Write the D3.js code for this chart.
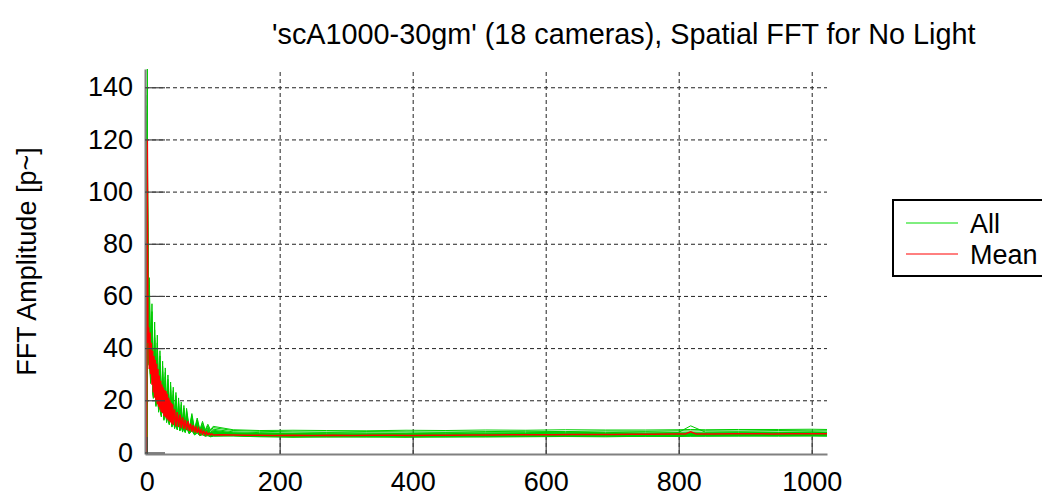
<!DOCTYPE html>
<html><head><meta charset="utf-8">
<script src="https://cdn.jsdelivr.net/npm/d3@7"></script>
<style>body{margin:0;background:#fff;overflow:hidden} text{font-family:"Liberation Sans",Arial,sans-serif;}</style>
</head><body><svg id="c" width="1042" height="498"></svg>
<script>
const titleText = "'scA1000-30gm' (18 cameras), Spatial FFT for No Light";
const yLabel = "FFT Amplitude [p~]";
const xTicks = [0, 200, 400, 600, 800, 1000];
const yTicks = [0, 20, 40, 60, 80, 100, 120, 140];
const legendLabels = ["All", "Mean"];

const camX = [0,1,2,4,6,8,10,12,14,16,18,20,22,24,26,28,30,32,34,36,38,40,42,44,46,48,50,52,54,56,58,60,
  64,68,72,76,80,84,88,92,96,100,130,170,220,270,330,390,450,510,570,630,690,750,800,818,840,890,950,1000,1023];
const cam01 = [0,96, 33.4,37,26.4,32,20.7,28,17.6,25,15.4,22,13.6,19.5,12.3,18,11.4,16.5,10.6,15,9.7,14,9.1,12.8,8.6,11.6,8.2,10.7,7.8,10,7.6,9.4, 7.1,8.3,6.7,7.4,6.4,6.8,6.2,6.4,6.0,6.2, 6.3,6.0,5.8,6.0,5.9,5.8,6.0,5.9,6.0,6.1,6.0,6.2,6.1,6.2,6.2,6.3,6.2,6.3,6.2];
const cam02 = [0,100, 34.2,40,27,34,21.2,30,18,26,15.8,23,14,21,12.6,19,11.7,17.6,10.8,16,9.9,14.8,9.3,13.6,8.8,12.4,8.4,11.4,8,10.6,7.7,10, 7.3,8.8,6.8,7.8,6.6,7,6.3,6.6,6.1,6.4, 6.5,6.2,6.0,5.9,6.1,6.0,5.9,6.1,6.2,6.1,6.3,6.2,6.4,6.3,6.4,6.3,6.5,6.4,6.4];
const cam03 = [0,104, 35,43,27.6,36,21.6,31,18.4,28,16.1,25,14.3,22,12.9,20,12,18.7,11,17,10.1,15.7,9.5,14.5,9,13.2,8.6,12.2,8.2,11.3,7.9,10.6, 7.5,9.4,7,8.3,6.7,7.5,6.4,6.8,6.3,6.6, 6.4,6.1,6.2,6.1,6.0,6.2,6.1,6.3,6.2,6.4,6.3,6.3,6.4,6.5,6.4,6.5,6.5,6.6,6.5];
const cam04 = [0,108, 35.3,44,27.9,37,21.9,33,18.6,29,16.3,25.5,14.4,23,13,21,12.1,19.4,11.2,17.6,10.2,16.3,9.6,15,9.1,13.6,8.6,12.6,8.3,11.7,8,11, 7.5,9.7,7.1,8.6,6.8,7.7,6.5,7,6.4,6.7, 6.6,6.3,6.1,6.3,6.2,6.1,6.3,6.2,6.3,6.4,6.3,6.5,6.4,6.5,6.5,6.6,6.5,6.6,6.5];
const cam05 = [0,110, 35.7,45,28.2,38,22.1,33,18.8,30,16.5,26,14.6,23,13.2,22,12.2,20,11.3,18,10.3,16.7,9.7,15.3,9.2,14,8.7,12.9,8.4,12,8.1,11.3, 7.6,9.9,7.1,8.8,6.9,7.9,6.6,7.2,6.5,6.8, 6.8,6.5,6.3,6.2,6.4,6.3,6.2,6.4,6.5,6.4,6.6,6.5,6.7,6.6,6.7,6.6,6.8,6.7,6.7];
const cam06 = [0,112, 36.1,47,28.5,39,22.3,34,19,31,16.6,27,14.7,24,13.3,22,12.4,20.5,11.4,18.6,10.5,17.2,9.8,15.8,9.3,14.4,8.8,13.3,8.5,12.4,8.2,11.6, 7.7,10.2,7.2,9.1,6.9,8.2,6.7,7.4,6.5,6.9, 6.6,6.3,6.4,6.3,6.2,6.4,6.3,6.5,6.4,6.6,6.5,6.5,6.6,6.7,6.6,6.7,6.7,6.8,6.7];
const cam07 = [0,114, 36.5,48,28.8,40,22.6,35,19.2,31,16.8,28,14.9,25,13.4,23,12.5,21,11.5,19,10.6,17.6,9.9,16.2,9.4,14.7,8.9,13.6,8.5,12.6,8.3,11.9, 7.8,10.5,7.3,9.3,7,8.4,6.7,7.6,6.6,7, 6.8,6.5,6.3,6.5,6.4,6.3,6.5,6.4,6.5,6.6,6.5,6.7,6.6,6.7,6.7,6.8,6.7,6.8,6.7];
const cam08 = [0,116, 36.9,49,29.1,41,22.8,36,19.4,32,17,28,15,25,13.6,23,12.6,21,11.6,19.4,10.7,17.9,10,16.5,9.5,15,9,13.9,8.6,12.9,8.3,12.1, 7.9,10.7,7.4,9.5,7.1,8.5,6.8,7.8,6.7,7.2, 7.0,6.7,6.5,6.4,6.6,6.5,6.4,6.6,6.7,6.6,6.8,6.7,6.9,6.8,6.9,6.8,7.0,6.9,6.9];
const cam09 = [0,118, 37.2,50,29.4,42,23,37,19.6,33,17.2,29,15.2,26,13.7,24,12.7,22,11.8,20,10.8,18.5,10.1,17,9.6,15.5,9.1,14.3,8.7,13.3,8.4,12.5, 7.9,11,7.4,9.8,7.2,8.8,6.9,8,6.8,7.4, 6.8,6.5,6.6,6.5,6.4,6.6,6.5,6.7,6.6,6.8,6.7,6.7,6.8,6.9,6.8,6.9,6.9,7.0,6.9];
const cam10 = [0,120, 38,51,30,43,23.5,36,20,34,17.5,30,15.5,27,14,23,13,23,12,21,11,18,10.3,17.5,9.8,16,9.3,14,8.9,13.6,8.6,12.8, 8.1,11.3,7.6,10,7.3,8.9,7,8.2,6.9,7.5, 7.0,6.7,6.5,6.7,6.6,6.5,6.7,6.6,6.7,6.8,6.7,6.9,6.8,6.9,6.9,7.0,6.9,7.0,6.9];
const cam11 = [0,122, 38.5,52,29.6,43,23.8,38,19.8,34,17.7,30,15.3,27,14.2,25,12.9,22.7,12.1,20.6,11.1,19,10.4,17.5,9.7,16,9.4,14.7,8.8,13.7,8.7,12.9, 8.2,11.3,7.7,10.1,7.4,9.1,7.1,8.2,7,7.6, 7.2,6.9,6.7,6.6,6.8,6.7,6.6,6.8,6.9,6.8,7.0,6.9,7.1,7.0,7.1,7.0,7.2,7.1,7.1];
const cam12 = [0,124, 38.8,53,30.6,44,24,39,20.4,35,17.9,30.5,15.8,27,14.3,25,13.3,23,12.2,21,11.2,19.4,10.5,17.9,10,16.3,9.5,15,9.1,14,8.8,13.1, 8.3,11.6,7.8,10.3,7.4,9.2,7.1,8.4,7,7.8, 7.1,6.8,6.9,6.8,6.7,6.9,6.8,7.0,6.9,7.1,7.0,7.0,7.1,7.2,7.1,7.2,7.2,7.3,7.2];
const cam13 = [0,127, 39.1,54,30.9,45,24.2,40,20.6,36,18,31,16,28,14.4,26,13.4,23.8,12.4,21.6,11.3,20,10.6,18.4,10.1,16.7,9.6,15.4,9.2,14.4,8.9,13.5, 8.3,11.9,7.8,10.6,7.5,9.5,7.2,8.6,7.1,8, 7.3,7.0,6.8,7.0,6.9,6.8,7.0,6.9,7.0,7.1,7.0,7.2,7.1,7.2,7.2,7.3,7.2,7.3,7.2];
const cam14 = [0,130, 39.9,55,31.5,46,24.7,41,21,36,18.4,32,16.3,28.6,14.7,26.4,13.7,24.2,12.6,22,11.6,20.4,10.8,18.7,10.3,17.1,9.8,15.7,9.3,14.6,9,13.8, 8.5,12.1,8,10.8,7.7,9.7,7.4,8.8,7.3,8.1, 7.5,7.2,7.0,6.9,7.1,7.0,6.9,7.1,7.2,7.1,7.3,7.2,7.4,7.3,7.4,7.3,7.5,7.4,7.4];
const cam15 = [0,133, 40.3,58,31.8,48,24.9,43,21.2,38,18.6,33,16.4,30,14.8,27.6,13.8,25.3,12.7,23,11.7,21.3,10.9,19.6,10.4,17.8,9.9,16.4,9.4,15.3,9.1,14.4, 8.6,12.7,8.1,11.3,7.7,10.1,7.5,9.2,7.4,8.5, 7.5,7.2,7.3,7.2,7.1,7.3,7.2,7.4,7.3,7.5,7.4,7.4,7.5,7.6,7.5,7.6,7.6,7.7,7.6];
const cam16 = [0,137, 41,60,32.4,50,25.4,44,21.6,40,18.9,35,16.7,31,15.1,29,14,26.4,13,24,11.9,22.2,11.1,20.4,10.6,18.6,10,17.2,9.6,16,9.3,15, 8.7,13.2,8.2,11.8,7.9,10.6,7.6,9.6,7.6,8.9, 7.9,7.6,7.4,7.6,7.5,7.4,7.6,7.5,7.6,7.7,7.6,7.8,7.7,10.2,7.8,7.9,7.8,7.9,7.8];
const cam17 = [0,140, 41.8,64,33,54,25.9,47,22,42,19.3,37,17.1,33,15.4,30.7,14.3,28,13.2,25.6,12.1,23.7,11.3,21.8,10.8,19.8,10.2,18.3,9.8,17,9.5,16, 8.9,14.1,8.5,12.5,8.3,11.3,8.2,10.2,8.2,9.5, 8.4,8.1,7.9,7.8,8.0,7.9,7.8,8.0,8.1,8.0,8.2,8.1,8.3,8.2,8.3,8.2,8.4,8.3,8.3];
const cam18 = [0,147, 42.9,67,33.9,57,26.6,50,22.6,45,19.8,39,17.5,35,15.8,32.4,14.7,29.7,13.6,27,12.4,25,11.6,23,11.1,20.9,10.5,19.3,10.1,18,9.7,16.9, 9.2,14.9,8.9,13.2,8.7,11.9,8.6,10.8,8.6,10, 8.7,8.4,8.5,8.4,8.3,8.5,8.4,8.6,8.5,8.7,8.6,8.6,8.7,8.8,8.7,8.8,8.8,8.9,8.8];

const meanX = [0,1,2,3,4,5,6,7,8,9,10,11,12,13,14,15,16,17,18,19,20,21,22,23,24,25,26,27,28,29,30,31,32,33,34,35,36,37,38,39,40,
  42,44,46,48,50,52,54,56,58,60,62,64,66,68,70,72,74,76,78,80,82,84,86,88,90,92,94,96,98,100,
  110,130,150,170,190,220,250,280,310,340,370,400,430,460,490,520,550,580,610,640,670,700,730,760,790,810,818,826,850,880,910,940,970,1000,1023];
const meanY = [0,120,42,48,32,46,30,42,26,39,23,37,21,35.5,20,34,18.5,32,17.5,29.5,16.5,27.5,15.5,26,15,25,14,24,13.5,23.5,13,22.5,12.5,21,12,20,11.5,19,11,18.5,10.5,
  16.5,10,15.5,9.8,14.5,9.4,13.5,9,12.5,8.6,12,8.3,11,8,10.5,7.7,10,7.5,9.2,7.3,8.6,7.1,8.2,6.9,7.8,6.8,7.4,6.7,7.1,6.7,
  6.8,6.7,6.6,6.6,6.5,6.6,6.5,6.6,6.5,6.6,6.6,6.5,6.6,6.6,6.7,6.7,6.8,6.8,6.8,6.9,6.9,6.9,7.0,7.0,7.1,7.1,7.9,7.1,7.1,7.2,7.2,7.1,7.2,7.2,7.2];

const cameras = [cam01,cam02,cam03,cam04,cam05,cam06,cam07,cam08,cam09,cam10,cam11,cam12,cam13,cam14,cam15,cam16,cam17,cam18];

const svg = d3.select("#c");
const L = 145, R = 827, T = 69, B = 454;
const x = d3.scaleLinear().domain([-2.5, 1023]).range([L, R]);
const y = d3.scaleLinear().domain([-0.6, 147]).range([B, T]);
const FS = 27;
const FONT = '"Liberation Sans",Arial,sans-serif';

// grid
const gx = svg.append("g").attr("transform", `translate(0,${B})`)
  .call(d3.axisBottom(x).tickValues(xTicks.filter(d => d > 0)).tickSize(-(B - T)).tickSizeOuter(0).tickFormat(""));
gx.select(".domain").remove();
gx.selectAll("line").attr("stroke", "#222").attr("stroke-dasharray", "4,3");
const gy = svg.append("g").attr("transform", `translate(${L},0)`)
  .call(d3.axisLeft(y).tickValues(yTicks.filter(d => d > 0)).tickSize(-(R - L)).tickSizeOuter(0).tickFormat(""));
gy.select(".domain").remove();
gy.selectAll("line").attr("stroke", "#222").attr("stroke-dasharray", "4,3");

// clip
svg.append("clipPath").attr("id", "clip").append("rect").attr("x", L).attr("y", T - 2).attr("width", R - L).attr("height", B - T + 2);
const plot = svg.append("g").attr("clip-path", "url(#clip)");

const line = d3.line().x(d => x(d[0])).y(d => y(d[1]));
plot.selectAll("path.cam").data(cameras).join("path").attr("class", "cam")
  .attr("d", c => line(c.map((v, i) => [camX[i], v])))
  .attr("fill", "none").attr("stroke", "#00cc00").attr("stroke-width", 1);
plot.append("path").attr("d", line(meanY.map((v, i) => [meanX[i], v])))
  .attr("fill", "none").attr("stroke", "#ff0000").attr("stroke-width", 1.5);

// axes
const ax = svg.append("g").attr("transform", `translate(0,${B})`)
  .call(d3.axisBottom(x).tickValues(xTicks).tickFormat(d3.format("d")).tickSize(-17).tickSizeOuter(0).tickPadding(18));
ax.select(".domain").attr("stroke", "#808080").attr("stroke-width", 2);
ax.selectAll(".tick line").attr("stroke", "#444").attr("stroke-width", 1.2);
ax.selectAll("text").attr("font-size", FS).attr("fill", "#000").attr("font-family", FONT);

const ay = svg.append("g").attr("transform", `translate(${L},0)`)
  .call(d3.axisLeft(y).tickValues(yTicks).tickFormat(d3.format("d")).tickSize(-20).tickSizeOuter(0).tickPadding(12));
ay.select(".domain").attr("stroke", "#808080").attr("stroke-width", 2);
ay.selectAll(".tick line").attr("stroke", "#444").attr("stroke-width", 1.2);
ay.selectAll("text").attr("font-size", FS).attr("fill", "#000").attr("font-family", FONT);

// title & label
svg.append("text").attr("x", 272).attr("y", 44).attr("font-size", 28.8).text(titleText);
svg.append("text").attr("transform", `translate(36,${(T + B) / 2}) rotate(-90)`).attr("text-anchor", "middle")
  .attr("font-size", FS).text(yLabel);

// legend
const lg = svg.append("g");
lg.append("rect").attr("x", 893).attr("y", 200).attr("width", 170).attr("height", 76)
  .attr("fill", "#fff").attr("stroke", "#000").attr("stroke-width", 2);
const legColors = ["#00dd00", "#ff0000"];
legendLabels.forEach((t, i) => {
  const yy = 223 + i * 31;
  lg.append("line").attr("x1", 906).attr("x2", 958).attr("y1", yy).attr("y2", yy).attr("stroke", legColors[i]).attr("stroke-width", 1);
  lg.append("text").attr("x", 970).attr("y", yy + 9.5).attr("font-size", FS).text(t);
});
</script></body></html>
